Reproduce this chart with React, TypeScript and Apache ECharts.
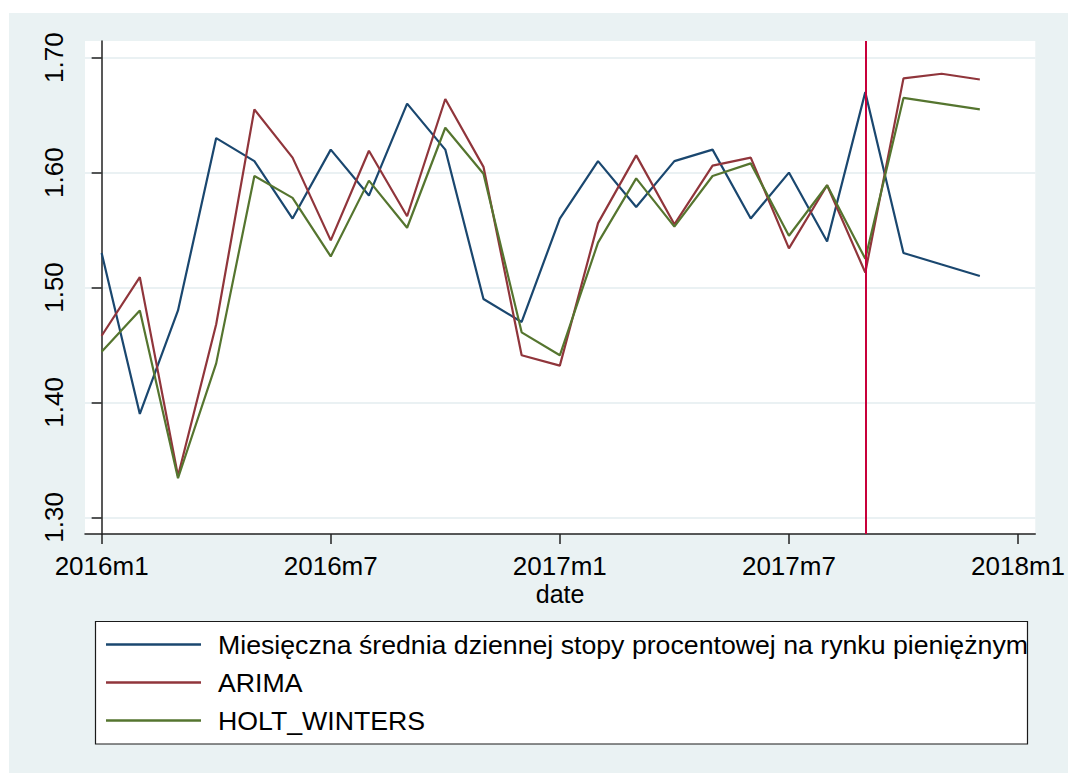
import React, { useEffect, useRef } from "react";
import * as echarts from "echarts";

// Monthly periods on the time axis (index = position on the axis)
const periods = [
  "2016m1", "2016m2", "2016m3", "2016m4", "2016m5", "2016m6",
  "2016m7", "2016m8", "2016m9", "2016m10", "2016m11", "2016m12",
  "2017m1", "2017m2", "2017m3", "2017m4", "2017m5", "2017m6",
  "2017m7", "2017m8", "2017m9", "2017m10", "2017m11", "2017m12",
  "2018m1",
];

const tickPeriods = ["2016m1", "2016m7", "2017m1", "2017m7", "2018m1"];
const yTicks = [1.3, 1.4, 1.5, 1.6, 1.7];
const forecastStart = "2017m9";

// Monthly mean of the daily money-market rate
const actual = [
  1.53, 1.39, 1.48, 1.63, 1.61, 1.56, 1.62, 1.58, 1.66, 1.62, 1.49, 1.47,
  1.56, 1.61, 1.57, 1.61, 1.62, 1.56, 1.6, 1.54, 1.67, 1.53, 1.52, 1.51,
];

const arima = [
  1.458, 1.509, 1.336, 1.468, 1.655, 1.613, 1.541, 1.619, 1.562, 1.664, 1.605, 1.441,
  1.432, 1.556, 1.615, 1.555, 1.606, 1.613, 1.534, 1.589, 1.513, 1.682, 1.686, 1.681,
];

const holtWinters = [
  1.444, 1.48, 1.334, 1.434, 1.597, 1.578, 1.527, 1.593, 1.552, 1.639, 1.599, 1.461,
  1.441, 1.539, 1.595, 1.553, 1.597, 1.608, 1.545, 1.589, 1.525, 1.665, 1.66, 1.655,
];

const seriesNames = [
  "Miesięczna średnia dziennej stopy procentowej na rynku pieniężnym",
  "ARIMA",
  "HOLT_WINTERS",
];
const seriesColors = ["#1a476f", "#90353b", "#55752f"];

const FONT = "'Liberation Sans', Arial, Helvetica, sans-serif";
const BG = "#eaf2f3";

const toPoints = (values: number[]) => values.map((v, i) => [i, v]);

export default function App() {
  const ref = useRef<HTMLDivElement>(null);

  useEffect(() => {
    if (!ref.current) return;
    const chart = echarts.init(ref.current, null, { renderer: "svg" });

    const tickIdx = tickPeriods.map((p) => periods.indexOf(p));
    const allSeries = [actual, arima, holtWinters];

    chart.setOption({
      animation: false,
      backgroundColor: BG,
      graphic: [
        { type: "rect", shape: { x: 0, y: 0, width: 1068, height: 13 }, style: { fill: "#ffffff" }, silent: true },
        { type: "rect", shape: { x: 0, y: 0, width: 9, height: 773 }, style: { fill: "#ffffff" }, silent: true },
        {
          type: "rect",
          shape: { x: 95.5, y: 621.5, width: 932, height: 122.5 },
          style: { fill: "#ffffff", stroke: "#1a1a1a", lineWidth: 1.2 },
          silent: true,
          z: 0,
        },
      ],
      grid: {
        left: 85,
        top: 41,
        right: 30,
        bottom: 239,
        show: true,
        backgroundColor: "#ffffff",
        borderWidth: 0,
      },
      legend: {
        orient: "vertical",
        left: 106,
        top: 631,
        padding: 0,
        itemGap: 11,
        itemWidth: 95,
        itemHeight: 2.5,
        icon: "rect",
        z: 10,
        data: seriesNames,
        selectedMode: false,
        textStyle: {
          fontFamily: FONT,
          fontSize: 26.7,
          lineHeight: 26,
          color: "#000",
          padding: [0, 0, 0, 12],
        },
      },
      xAxis: {
        type: "value",
        min: -0.436,
        max: 24.452,
        name: "date",
        nameLocation: "middle",
        nameGap: 49,
        nameMoveOverlap: false,
        nameTextStyle: { fontFamily: FONT, fontSize: 25, lineHeight: 22, color: "#000" },
        axisLine: { lineStyle: { color: "#222", width: 1.5 } },
        axisTick: { customValues: tickIdx, length: 10, lineStyle: { color: "#222", width: 1.5 } },
        axisLabel: {
          customValues: tickIdx,
          margin: 21,
          fontFamily: FONT,
          fontSize: 26,
          lineHeight: 22,
          color: "#000",
          formatter: (v: number) => periods[Math.round(v)] ?? "",
        },
        splitLine: { show: false },
      },
      yAxis: {
        type: "value",
        min: 1.2855,
        max: 1.7145,
        axisLine: { show: true, lineStyle: { color: "#222", width: 1.5 } },
        axisTick: { show: true, customValues: yTicks, length: 10, lineStyle: { color: "#222", width: 1.5 } },
        axisLabel: {
          customValues: yTicks,
          rotate: 90,
          margin: 18,
          fontFamily: FONT,
          fontSize: 26,
          color: "#000",
          formatter: (v: number) => v.toFixed(2),
        },
        splitLine: { show: true, lineStyle: { color: "#e3ecef", width: 1.5 } },
      },
      series: allSeries.map((vals, k) => ({
        name: seriesNames[k],
        type: "line",
        data: toPoints(vals),
        symbol: "none",
        showSymbol: false,
        color: seriesColors[k],
        lineStyle: { color: seriesColors[k], width: 2.2 },
        z: 3,
        ...(k === 0
          ? {
              markLine: {
                silent: true,
                symbol: "none",
                label: { show: false },
                lineStyle: { color: "#c8003a", width: 2, type: "solid" },
                data: [{ xAxis: periods.indexOf(forecastStart) }],
              },
            }
          : {}),
      })),
    });

    return () => chart.dispose();
  }, []);

  return (
    <div
      ref={ref}
      style={{ position: "absolute", left: 0, top: 0, width: 1068, height: 773 }}
    />
  );
}
